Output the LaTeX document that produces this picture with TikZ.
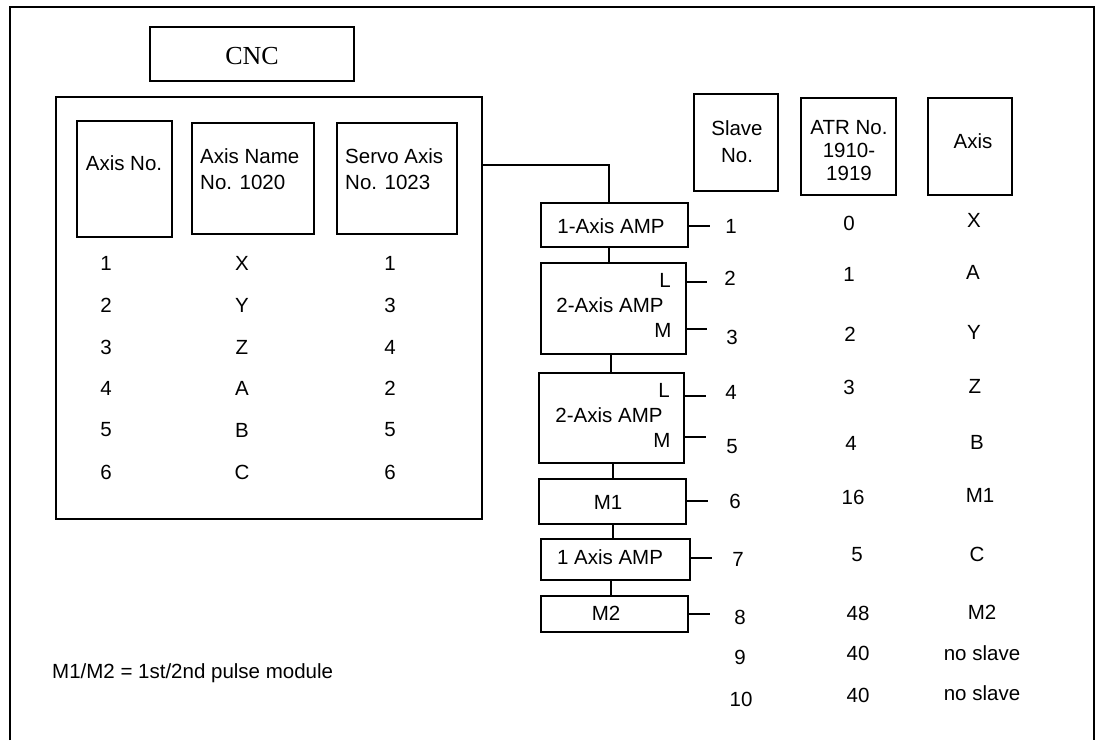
\documentclass[tikz,border=0pt]{standalone}
\usepackage{fontspec}
\setmainfont{Liberation Sans}
\newfontfamily\cncserif{Liberation Serif}
\begin{document}
\begin{tikzpicture}[x=1pt,y=-1pt,
  box/.style={draw,line width=1.9pt,rectangle,inner sep=0pt},
  txt/.style={inner sep=0pt,font=\fontsize{20.5}{24}\selectfont},
  mtxt/.style={inner sep=0pt,font=\fontsize{20.5}{24}\selectfont,align=center},
  ltxt/.style={inner sep=0pt,font=\fontsize{20.5}{26}\selectfont,align=left},
  wire/.style={line width=1.9pt}]
\useasboundingbox (0,0) rectangle (1096,740);
% outer frame (open at the bottom)
\draw[wire] (10,740) -- (10,7) -- (1094,7) -- (1094,740);

% CNC side
\node[box,minimum width=204pt,minimum height=54pt] (cnc) at (252,54) {};
\node[inner sep=0pt,font=\cncserif\fontsize{26}{30}\selectfont] (cnct) at (252,56) {CNC};
\node[box,minimum width=426pt,minimum height=422pt] (cncbox) at (269,308) {};
\node[box,minimum width=95pt,minimum height=116pt] (axno) at (124.5,179) {};
\node[txt] (axnot) at (124,163) {Axis No.};
\node[box,minimum width=122pt,minimum height=111pt] (axname) at (253,178.5) {};
\node[ltxt,anchor=west] (axnamet) at (200,169) {Axis Name\\No. 1020};
\node[box,minimum width=120pt,minimum height=111pt] (servo) at (397,178.5) {};
\node[ltxt,anchor=west] (servot) at (345,169) {Servo Axis\\No. 1023};

% left table
\foreach \r/\y/\a/\b/\c in {1/263/1/X/1,2/305/2/Y/3,3/347/3/Z/4,4/388/4/A/2,5/430/5/B/5,6/472/6/C/6}{
  \node[txt] (la\r) at (106,\y) {\a};
  \node[txt] (lb\r) at (242,\y) {\b};
  \node[txt] (lc\r) at (390,\y) {\c};
}

% right headers
\node[box,minimum width=84pt,minimum height=97pt] (slave) at (736,142.5) {};
\node[mtxt,font=\fontsize{20.5}{27}\selectfont] (slavet) at (737,142) {Slave\\No.};
\node[box,minimum width=95pt,minimum height=97pt] (atr) at (848.5,146.5) {};
\node[mtxt,font=\fontsize{20.5}{23}\selectfont] (atrt) at (849,151) {ATR No.\\1910-\\1919};
\node[box,minimum width=84pt,minimum height=97pt] (axisb) at (970,146.5) {};
\node[txt] (axisbt) at (973,141) {Axis};

% amplifier chain
\node[box,minimum width=147pt,minimum height=44pt] (amp1) at (614.5,225) {};
\node[txt] (amp1t) at (611,226) {1-Axis AMP};
\node[box,minimum width=145pt,minimum height=91pt] (ampa) at (613.5,308.5) {};
\node[txt] (ampat) at (610,305) {2-Axis AMP};
\node[txt] (ampaL) at (665,280) {L};
\node[txt] (ampaM) at (663,330) {M};
\node[box,minimum width=145pt,minimum height=90pt] (ampb) at (611.5,418) {};
\node[txt] (ampbt) at (609,415) {2-Axis AMP};
\node[txt] (ampbL) at (664,390) {L};
\node[txt] (ampbM) at (662,440) {M};
\node[box,minimum width=147pt,minimum height=45pt] (m1) at (612.5,501.5) {};
\node[txt] (m1t) at (608,502) {M1};
\node[box,minimum width=149pt,minimum height=41pt] (amp7) at (615.5,559.5) {};
\node[txt] (amp7t) at (610,557) {1 Axis AMP};
\node[box,minimum width=147pt,minimum height=36pt] (m2) at (614.5,614) {};
\node[txt] (m2t) at (606,613) {M2};

% connection CNC -> chain
\coordinate (j1) at (609,165);
\draw[wire] (cncbox.east |- j1) -- (j1) -- (amp1.north -| j1);
\coordinate (v1) at (609,0);
\coordinate (v2) at (611,0);
\coordinate (v3) at (613,0);
\draw[wire] (amp1.south -| v1) -- (ampa.north -| v1);
\draw[wire] (ampa.south -| v2) -- (ampb.north -| v2);
\draw[wire] (ampb.south -| v3) -- (m1.north -| v3);
\draw[wire] (m1.south -| v3) -- (amp7.north -| v3);
\draw[wire] (amp7.south -| v2) -- (m2.north -| v2);

% ticks to slave numbers
\coordinate (t1) at (710,226);
\coordinate (t2) at (707,282);
\coordinate (t3) at (707,329);
\coordinate (t4) at (706,396);
\coordinate (t5) at (706,437);
\coordinate (t6) at (708,501);
\coordinate (t7) at (712,558);
\coordinate (t8) at (710,614);
\draw[wire] (amp1.east |- t1) -- (t1);
\draw[wire] (ampa.east |- t2) -- (t2);
\draw[wire] (ampa.east |- t3) -- (t3);
\draw[wire] (ampb.east |- t4) -- (t4);
\draw[wire] (ampb.east |- t5) -- (t5);
\draw[wire] (m1.east |- t6) -- (t6);
\draw[wire] (amp7.east |- t7) -- (t7);
\draw[wire] (m2.east |- t8) -- (t8);

% right table
\foreach \r/\sx/\sy/\ax/\ay/\at/\bx/\by/\bt in {
  1/731/226/849/223/0/974/220/X,
  2/730/278/849/274/1/973/272/A,
  3/732/337/850/334/2/974/332/Y,
  4/731/392/849/387/3/975/386/Z,
  5/732/447/851/443/4/977/442/B,
  6/735/501/853/497/16/980/495/M1,
  7/738/559/857/555/5/977/554/C,
  8/740/617/858/613/48/982/612/M2,
  9/740/657/858/653/40/982/653/no slave,
  10/741/699/858/695/40/982/693/no slave}{
  \node[txt] (sn\r) at (\sx,\sy) {\r};
  \node[txt] (at\r) at (\ax,\ay) {\at};
  \node[txt] (ax\r) at (\bx,\by) {\bt};
}

% legend
\node[txt,anchor=west] (legend) at (52,673) {M1/M2 = 1st/2nd pulse module};
\end{tikzpicture}
\end{document}
